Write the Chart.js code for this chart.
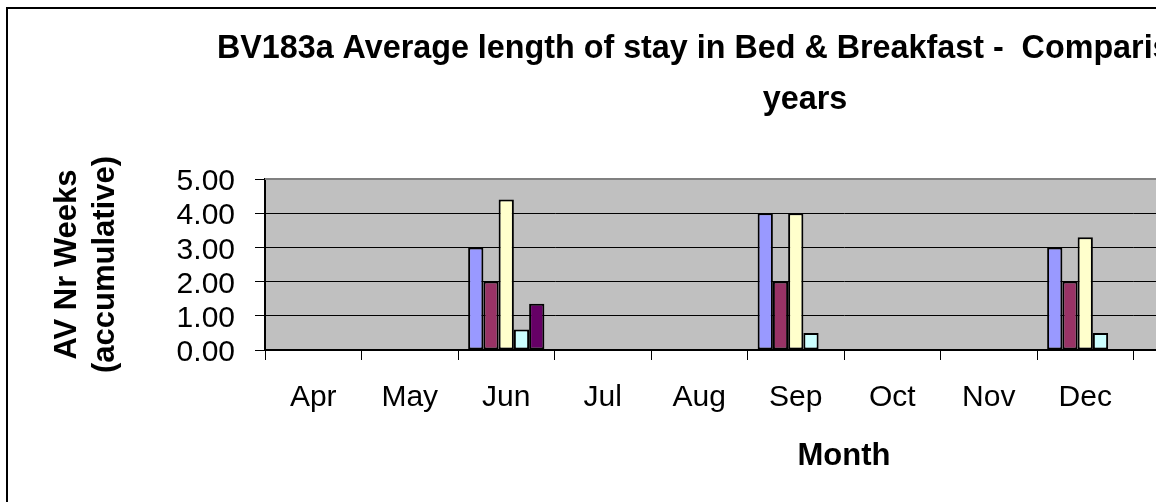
<!DOCTYPE html>
<html>
<head>
<meta charset="utf-8">
<script src="https://cdn.jsdelivr.net/npm/chart.js@4.4.1/dist/chart.umd.min.js"></script>
<style>
  html, body { margin: 0; padding: 0; background: #fff; overflow: hidden; width: 1169px; height: 502px; }
  #clip { position: absolute; left: 0; top: 0; width: 1156px; height: 502px; overflow: hidden; background: #fff; }
  #box { position: absolute; left: 6px; top: 7px; width: 1594px; height: 540px; border: 2px solid #000; background: #fff; }
  #c { display: block; }
</style>
</head>
<body>
<div id="clip"><div id="box"><canvas id="c" width="1594" height="540"></canvas></div></div>
<script>
// ---- data ----
const titleLines = ['BV183a Average length of stay in Bed & Breakfast -  Comparison of previous', 'years'];
const yTitleLines = ['AV Nr Weeks', '(accumulative)'];
const xTitle = 'Month';
const categories = ['Apr', 'May', 'Jun', 'Jul', 'Aug', 'Sep', 'Oct', 'Nov', 'Dec', 'Jan', 'Feb', 'Mar'];
const seriesNames = ['2002/03', '2003/04', '2004/05', '2005/06', '2006/07'];
const seriesA = [null, null, 3.0, null, null, 4.0, null, null, 3.0, null, null, null];
const seriesB = [null, null, 2.0, null, null, 2.0, null, null, 2.0, null, null, null];
const seriesC = [null, null, 4.4, null, null, 4.0, null, null, 3.3, null, null, null];
const seriesD = [null, null, 0.6, null, null, 0.5, null, null, 0.5, null, null, null];
const seriesE = [null, null, 1.35, null, null, null, null, null, null, null, null, null];
const seriesColors = ['#9999FF', '#993366', '#FFFFCC', '#CCFFFF', '#660066'];
const yMin = 0, yMax = 5, yStep = 1;

const FONT = "'Liberation Sans', Arial, Helvetica, sans-serif";

const plotDecor = {
  id: 'plotDecor',
  beforeDraw(chart) {
    const { ctx, chartArea: a } = chart;
    ctx.save();
    ctx.fillStyle = '#C0C0C0';
    ctx.fillRect(a.left, a.top, a.right - a.left, a.bottom - a.top);
    ctx.restore();
  },
  afterDatasetsDraw(chart) {
    const { ctx, chartArea: a } = chart;
    ctx.save();
    ctx.strokeStyle = '#808080';
    ctx.lineWidth = 2;
    ctx.beginPath();
    ctx.moveTo(a.left, a.top);
    ctx.lineTo(a.right, a.top);
    ctx.lineTo(a.right, a.bottom);
    ctx.stroke();
    ctx.restore();
  }
};

const allSeries = [seriesA, seriesB, seriesC, seriesD, seriesE];
const datasets = allSeries.map((d, i) => ({
  label: seriesNames[i],
  data: d,
  backgroundColor: seriesColors[i],
  borderColor: '#000000',
  borderWidth: 2,
  borderSkipped: false,
  categoryPercentage: 0.79,
  barPercentage: 1.0,
  yAxisID: 'y'
}));

new Chart(document.getElementById('c'), {
  type: 'bar',
  data: { labels: categories, datasets },
  plugins: [plotDecor],
  options: {
    responsive: false,
    animation: false,
    events: [],
    layout: { padding: 0 },
    plugins: {
      legend: { display: false },
      tooltip: { enabled: false },
      title: {
        display: true,
        text: titleLines,
        color: '#000',
        font: { family: FONT, size: 32.3, weight: 'bold', lineHeight: 51 / 32.3 },
        padding: { top: 14.5, bottom: 53.5 }
      }
    },
    scales: {
      x: {
        offset: true,
        grid: { display: true, offset: true, drawOnChartArea: false, drawTicks: true, tickLength: 10, color: '#000', lineWidth: 1 },
        border: { display: true, color: '#000', width: 2 },
        ticks: { color: '#000', font: { family: FONT, size: 30, lineHeight: 1.2 }, padding: 20, maxRotation: 0, autoSkip: false },
        title: { display: true, text: xTitle, color: '#000', font: { family: FONT, size: 31, weight: 'bold', lineHeight: 1.2 }, padding: { top: 0, bottom: 74.4 } },
        afterFit(s) { s.height = 199; }
      },
      y: {
        position: 'left',
        min: yMin, max: yMax,
        grid: { display: true, drawOnChartArea: true, drawTicks: true, tickLength: 10, color: '#000', lineWidth: 1 },
        border: { display: true, color: '#000', width: 2 },
        ticks: { stepSize: yStep, autoSkip: false, color: '#000', font: { family: FONT, size: 30, lineHeight: 1 }, padding: 20, labelOffset: 3, callback: v => Number(v).toFixed(2) },
        title: { display: true, text: yTitleLines, color: '#000', font: { family: FONT, size: 31, weight: 'bold', lineHeight: 38 / 31 }, padding: { top: 40, bottom: 0 } },
        afterFit(s) { s.width = 257; }
      },
      y2: {
        position: 'right',
        min: yMin, max: yMax,
        grid: { display: false },
        border: { display: false },
        ticks: { display: false },
        title: { display: false },
        afterFit(s) { s.width = 179; }
      }
    }
  }
});
</script>
</body>
</html>
